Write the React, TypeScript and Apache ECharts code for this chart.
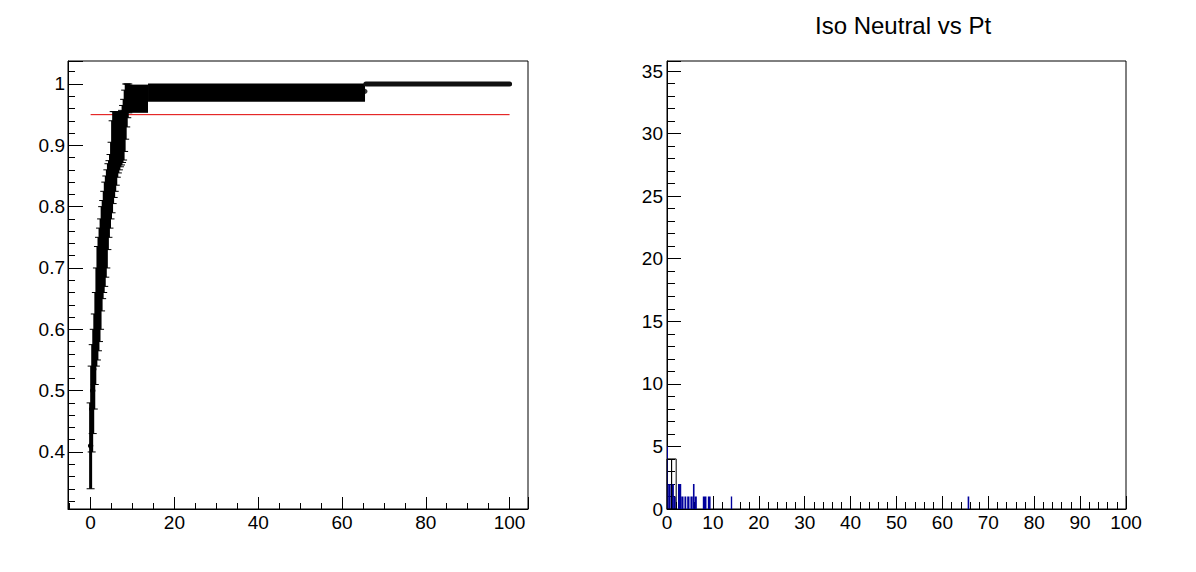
import { useEffect, useRef } from 'react';
import * as echarts from 'echarts';

const TITLE = 'Iso Neutral vs Pt';

// left pad: efficiency points on the rising edge (x, value, error low, error high)
const effX = [
  0, 0.25, 0.5, 0.75, 1, 1.25, 1.5, 1.75, 2, 2.25, 2.5, 2.75, 3, 3.25, 3.5, 3.75, 4, 4.25, 4.5, 4.75,
  5, 5.25, 5.5, 5.75, 6, 6.25, 6.5, 6.75, 7, 7.25, 7.5, 7.75, 8, 8.25, 8.5, 8.75, 9,
];
const effY = [
  0.41, 0.47, 0.5, 0.535, 0.566, 0.59, 0.62, 0.645, 0.66, 0.68, 0.7, 0.72, 0.735, 0.75, 0.76, 0.775,
  0.795, 0.81, 0.82, 0.83, 0.845, 0.865, 0.88, 0.89, 0.895, 0.9, 0.905, 0.91, 0.915, 0.92, 0.925,
  0.93, 0.94, 0.955, 0.97, 0.975, 0.98,
];
const effLo = [
  0.34, 0.4, 0.43, 0.47, 0.51, 0.54, 0.55, 0.565, 0.58, 0.6, 0.63, 0.65, 0.66, 0.67, 0.685, 0.7,
  0.73, 0.75, 0.765, 0.78, 0.79, 0.805, 0.815, 0.825, 0.835, 0.848, 0.855, 0.86, 0.865, 0.868,
  0.872, 0.876, 0.89, 0.91, 0.93, 0.945, 0.953,
];
const effHi = [
  0.48, 0.54, 0.575, 0.6, 0.625, 0.66, 0.7, 0.735, 0.75, 0.765, 0.78, 0.8, 0.81, 0.825, 0.84, 0.85,
  0.86, 0.87, 0.875, 0.885, 0.905, 0.94, 0.955, 0.955, 0.955, 0.955, 0.955, 0.955, 0.955, 0.955,
  0.957, 0.965, 0.975, 0.99, 1.0, 1.0, 1.0,
];

// plateau: error bars packed so tight they read as solid bands
const bandFrom = [8.5, 13.7];
const bandTo = [13.7, 65.5];
const bandLo = [0.953, 0.971];
const bandHi = [0.999, 1.001];

// points at exactly 1 with no error, beyond the last band
const fullX = [65.7, 100];
const fullY = [1, 1];
const lastX = [65.5];
const lastY = [0.988];

const cutX = [0, 100];
const cutY = [0.95, 0.95];

// right pad: histogram bins (from, to, entries)
const binFrom = [0, 0.25, 0.95, 1.5, 2.4, 3.1, 3.8, 4.4, 5.1, 5.65, 6.0, 7.8, 8.9, 13.9, 65.5];
const binTo = [0.2, 0.8, 1.5, 1.9, 3.1, 3.6, 4.2, 4.9, 5.6, 6.0, 6.5, 8.6, 9.5, 14.2, 65.85];
const binCount = [5, 2, 2, 1, 2, 1, 1, 1, 1, 2, 1, 1, 1, 1, 1];

const openFrom = [0, 1];
const openTo = [1, 2];
const openCount = [4, 4];

const FONT = 'Liberation Sans';
const BLUE = '#00009c';

const label = (formatter: (v: number) => string, margin: number) => ({
  color: '#000',
  fontFamily: FONT,
  fontSize: 19,
  margin,
  formatter,
});

export default function App() {
  const ref = useRef<HTMLDivElement>(null);

  useEffect(() => {
    if (!ref.current) return;
    const chart = echarts.init(ref.current, undefined, { renderer: 'svg' });

    const errorBar = (_: any, api: any) => {
      const x = api.value(0);
      const top = api.coord([x, api.value(3)]);
      const bot = api.coord([x, api.value(2)]);
      const mid = api.coord([x, api.value(1)]);
      const line = (y: number) => ({
        type: 'line',
        shape: { x1: top[0] - 4, y1: y, x2: top[0] + 4, y2: y },
        style: { stroke: '#000', lineWidth: 1 },
      });
      return {
        type: 'group',
        children: [
          { type: 'rect', shape: { x: top[0] - 1.5, y: top[1], width: 3, height: bot[1] - top[1] }, style: { fill: '#000' } },
          line(top[1]),
          line(bot[1]),
          { type: 'circle', shape: { cx: mid[0], cy: mid[1], r: 2.7 }, style: { fill: '#000' } },
        ],
      };
    };

    const band = (_: any, api: any) => {
      const a = api.coord([api.value(0), api.value(3)]);
      const b = api.coord([api.value(1), api.value(2)]);
      return { type: 'rect', shape: { x: a[0], y: a[1], width: b[0] - a[0], height: b[1] - a[1] }, style: { fill: '#000' } };
    };

    const bin = (filled: boolean) => (_: any, api: any) => {
      const a = api.coord([api.value(0), api.value(2)]);
      const b = api.coord([api.value(1), 0]);
      return {
        type: 'rect',
        shape: { x: a[0], y: a[1], width: Math.max(b[0] - a[0], 1), height: b[1] - a[1] },
        style: filled ? { fill: BLUE } : { fill: 'none', stroke: '#000', lineWidth: 1 },
      };
    };

    const tenths = (v: number) => {
      const r = Math.round(v * 10);
      return Math.abs(v * 10 - r) < 1e-6 ? String(r / 10) : '';
    };
    const every = (n: number) => (v: number) => (Math.abs(v % n) < 1e-6 ? String(v) : '');

    const tick = (len: number, minorLen: number, split: number) => ({
      axisLine: { show: true, onZero: false, lineStyle: { color: '#000', width: 1 } },
      axisTick: { show: true, inside: true, length: len, lineStyle: { color: '#000', width: 1 } },
      minorTick: { show: true, splitNumber: split, length: minorLen, lineStyle: { color: '#000', width: 1 } },
      splitLine: { show: false },
    });

    chart.setOption({
      animation: false,
      backgroundColor: '#fff',
      title: {
        text: TITLE,
        left: 810,
        top: 8,
        textStyle: { fontFamily: FONT, fontSize: 24, fontWeight: 'normal', color: '#000' },
      },
      grid: [
        { left: 68, top: 61, width: 460, height: 448, show: true, borderColor: '#000', borderWidth: 1, outerBoundsMode: 'none' },
        { left: 667, top: 61, width: 459, height: 448, show: true, borderColor: '#000', borderWidth: 1, outerBoundsMode: 'none' },
      ],
      xAxis: [
        {
          type: 'value', gridIndex: 0, min: -5.4, max: 104.4, splitNumber: 5,
          ...tick(12, 6, 4),
          axisLabel: label(every(20), 4),
        },
        {
          type: 'value', gridIndex: 1, min: 0, max: 100, interval: 10,
          ...tick(13, 7, 5),
          axisLabel: label(every(10), 4),
        },
      ],
      yAxis: [
        {
          type: 'value', gridIndex: 0, min: 0.307, max: 1.0375, splitNumber: 7,
          ...tick(15, 7, 5),
          axisLabel: label(tenths, 3),
        },
        {
          type: 'value', gridIndex: 1, min: 0, max: 35.8, interval: 5,
          ...tick(14, 8, 5),
          axisLabel: label(every(5), 4),
        },
      ],
      series: [
        {
          type: 'line', xAxisIndex: 0, yAxisIndex: 0, symbol: 'none', z: 1,
          data: cutX.map((x, i) => [x, cutY[i]]),
          lineStyle: { color: '#e00000', width: 1 },
        },
        {
          type: 'custom', xAxisIndex: 0, yAxisIndex: 0, z: 2,
          renderItem: band,
          encode: { x: [0, 1], y: [2, 3] },
          data: bandFrom.map((x, i) => [x, bandTo[i], bandLo[i], bandHi[i]]),
        },
        {
          type: 'custom', xAxisIndex: 0, yAxisIndex: 0, z: 3,
          renderItem: errorBar,
          encode: { x: 0, y: [1, 2, 3] },
          data: effX.map((x, i) => [x, effY[i], effLo[i], effHi[i]]),
        },
        {
          type: 'line', xAxisIndex: 0, yAxisIndex: 0, symbol: 'none', z: 3,
          data: fullX.map((x, i) => [x, fullY[i]]),
          lineStyle: { color: '#111', width: 5, cap: 'round' },
        },
        {
          type: 'scatter', xAxisIndex: 0, yAxisIndex: 0, z: 3, symbolSize: 5,
          data: lastX.map((x, i) => [x, lastY[i]]),
          itemStyle: { color: '#000' },
        },
        {
          type: 'custom', xAxisIndex: 1, yAxisIndex: 1, z: 2,
          renderItem: bin(true),
          encode: { x: [0, 1], y: 2 },
          data: binFrom.map((x, i) => [x, binTo[i], binCount[i]]),
        },
        {
          type: 'custom', xAxisIndex: 1, yAxisIndex: 1, z: 3,
          renderItem: bin(false),
          encode: { x: [0, 1], y: 2 },
          data: openFrom.map((x, i) => [x, openTo[i], openCount[i]]),
        },
      ],
    });

    return () => chart.dispose();
  }, []);

  return (
    <div
      ref={ref}
      style={{ position: 'fixed', left: 0, top: 0, width: 1196, height: 572, background: '#fff' }}
    />
  );
}
